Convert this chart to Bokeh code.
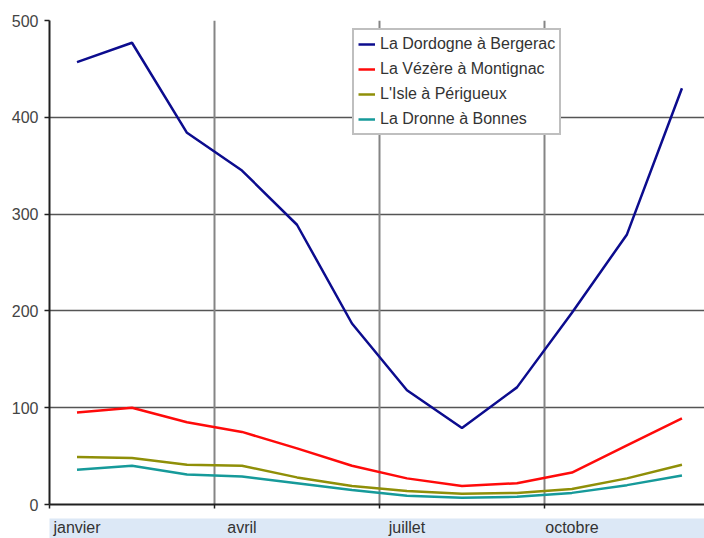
from bokeh.plotting import figure
from bokeh.models import Range1d, FixedTicker, LinearAxis, Legend, LegendItem, Grid
from bokeh.embed import file_html
from bokeh.resources import INLINE

months = ["janvier", "février", "mars", "avril", "mai", "juin",
          "juillet", "août", "septembre", "octobre", "novembre", "décembre"]
shown_months = [0, 3, 6, 9]
quarter_bounds = [-0.5, 2.5, 5.5, 8.5, 11.5]

dordogne = [457, 477, 384, 345, 289, 187, 118, 79, 121, 198, 279, 430]
vezere = [95, 100, 85, 75, 58, 40, 27, 19, 22, 33, 61, 89]
isle = [49, 48, 41, 40, 28, 19, 14, 11, 12, 16, 27, 41]
dronne = [36, 40, 31, 29, 22, 15, 9, 7, 8, 12, 20, 30]

series_names = ["La Dordogne à Bergerac", "La Vézère à Montignac",
                "L'Isle à Périgueux", "La Dronne à Bonnes"]
series_values = [dordogne, vezere, isle, dronne]
series_colors = ["#0c0c8e", "#ff0a0a", "#8f8f08", "#169a9a"]

FONT = "Liberation Sans"
x = list(range(len(months)))

p = figure(width=704, height=538, output_backend="svg", toolbar_location=None,
           x_range=Range1d(-0.5, 11.41), y_range=Range1d(0, 500),
           min_border_left=49, min_border_right=0, min_border_top=20,
           min_border_bottom=33, x_axis_type=None)
p.outline_line_color = None
p.background_fill_color = "white"
p.border_fill_color = "white"

# y axis
p.yaxis.ticker = FixedTicker(ticks=[0, 100, 200, 300, 400, 500])
p.yaxis.axis_line_color = "#202020"
p.yaxis.axis_line_width = 2
p.yaxis.major_tick_out = 5
p.yaxis.major_tick_in = 0
p.yaxis.major_tick_line_color = "#202020"
p.yaxis.major_tick_line_width = 1.5
p.yaxis.minor_tick_line_color = None
p.yaxis.major_label_text_font = FONT
p.yaxis.major_label_text_font_size = "16px"
p.yaxis.major_label_text_color = "#444444"
p.yaxis.major_label_standoff = 6

# bottom axis 1: the zero line with quarter ticks
ax1 = LinearAxis(ticker=FixedTicker(ticks=quarter_bounds))
ax1.axis_line_color = "#202020"
ax1.axis_line_width = 2
ax1.major_tick_out = 4
ax1.major_tick_in = 0
ax1.major_tick_line_color = "#202020"
ax1.major_tick_line_width = 1.5
ax1.minor_tick_line_color = None
ax1.major_label_overrides = {t: " " for t in quarter_bounds}
ax1.major_label_text_font_size = "4px"
ax1.major_label_standoff = 2
p.add_layout(ax1, "below")

# bottom axis 2: month labels on a light band
ax2 = LinearAxis(ticker=FixedTicker(ticks=shown_months))
ax2.axis_line_color = None
ax2.major_tick_line_color = None
ax2.minor_tick_line_color = None
ax2.major_tick_out = 0
ax2.major_tick_in = 0
ax2.major_label_overrides = {i: months[i] for i in shown_months}
ax2.major_label_text_font = FONT
ax2.major_label_text_font_size = "16px"
ax2.major_label_text_color = "#333333"
ax2.major_label_standoff = 0
ax2.background_fill_color = "#dce8f6"
p.add_layout(ax2, "below")

# grids
p.ygrid.ticker = FixedTicker(ticks=[100, 200, 300, 400, 500])
p.ygrid.grid_line_color = "#555555"
p.ygrid.grid_line_width = 1.5
vgrid = Grid(dimension=0, ticker=FixedTicker(ticks=quarter_bounds[1:4]),
             grid_line_color="#858585", grid_line_width=2)
p.add_layout(vgrid)

items = []
for name, vals, col in zip(series_names, series_values, series_colors):
    r = p.line(x, vals, line_color=col, line_width=2.5)
    items.append(LegendItem(label=name, renderers=[r]))

legend = Legend(items=items, location=(303, 369))
legend.label_text_font = FONT
legend.label_text_font_size = "16px"
legend.label_text_color = "#333333"
legend.glyph_width = 17
legend.glyph_height = 20
legend.label_height = 20
legend.label_standoff = 5
legend.spacing = 5
legend.padding = 4
legend.margin = 0
legend.border_line_color = "#808080"
legend.border_line_width = 2
legend.background_fill_color = "white"
legend.background_fill_alpha = 1
p.add_layout(legend, "center")

open("out.html", "w").write(file_html(p, INLINE))
